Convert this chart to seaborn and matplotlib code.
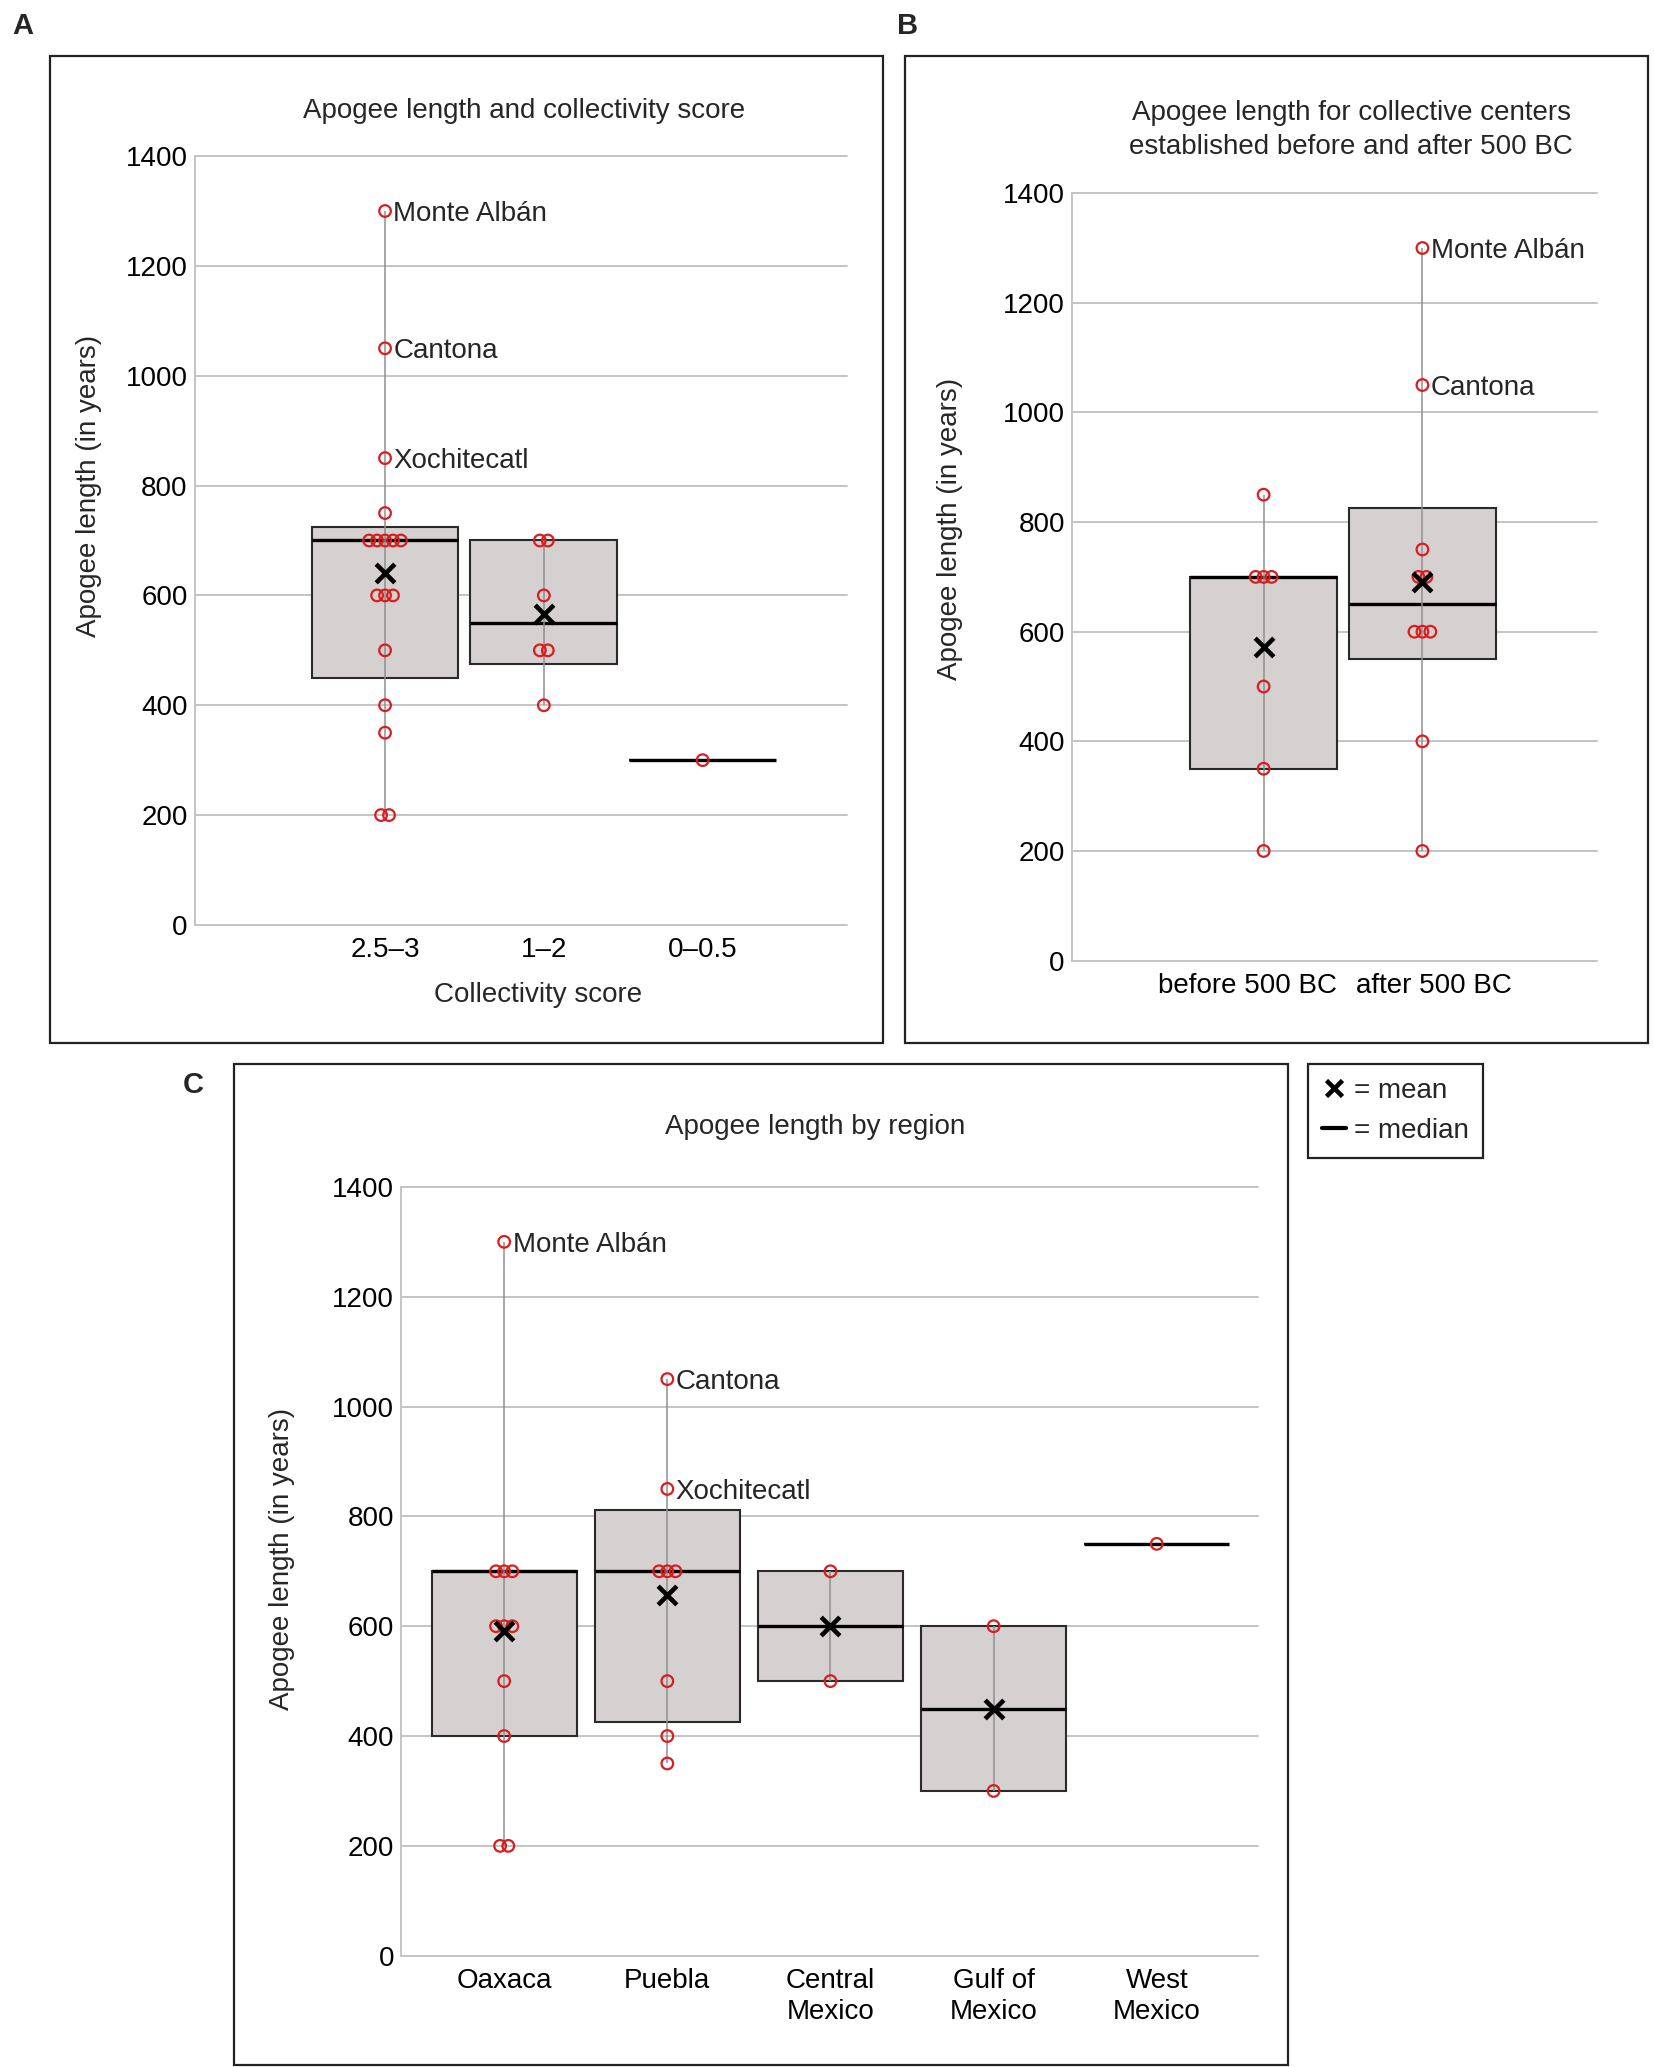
import numpy as np
import pandas as pd
import matplotlib
matplotlib.use("Agg")
import matplotlib.pyplot as plt
import seaborn as sns
from matplotlib.patches import Rectangle
from matplotlib.lines import Line2D

# ---------------- data ----------------
# Panel A: collectivity score
a_groups = ["2.5–3", "1–2", "0–0.5"]
a_high = [1300, 1050, 850, 750, 700, 700, 700, 700, 700, 600, 600, 600, 500, 400, 350, 200, 200]
a_mid = [700, 700, 600, 500, 500, 400]
a_low = [300]
a_q1 = [450, 475, None]
a_med = [700, 550, 300]
a_q3 = [725, 700, None]
a_names = ["Monte Albán", "Cantona", "Xochitecatl"]
a_name_group = [0, 0, 0]
a_name_value = [1300, 1050, 850]

# Panel B: before / after 500 BC
b_groups = ["before 500 BC", "after 500 BC"]
b_before = [850, 700, 700, 700, 500, 350, 200]
b_after = [1300, 1050, 750, 700, 700, 600, 600, 600, 400, 200]
b_q1 = [350, 550]
b_med = [700, 650]
b_q3 = [700, 825]
b_names = ["Monte Albán", "Cantona"]
b_name_group = [1, 1]
b_name_value = [1300, 1050]

# Panel C: region
c_groups = ["Oaxaca", "Puebla", "Central\nMexico", "Gulf of\nMexico", "West\nMexico"]
c_oaxaca = [1300, 700, 700, 700, 600, 600, 600, 500, 400, 200, 200]
c_puebla = [1050, 850, 700, 700, 700, 500, 400, 350]
c_central = [700, 500]
c_gulf = [600, 300]
c_west = [750]
c_q1 = [400, 425, 500, 300, None]
c_med = [700, 700, 600, 450, 750]
c_q3 = [700, 812, 700, 600, None]
c_names = ["Monte Albán", "Cantona", "Xochitecatl"]
c_name_group = [0, 1, 1]
c_name_value = [1300, 1050, 850]

# ---------------- style ----------------
W, H = 1654, 2067
sns.set_theme(style="white")
plt.rcParams['font.family'] = ['Liberation Sans', 'DejaVu Sans']

RED = '#d81e1e'
BOXFILL = '#d5d1d1'
GRID = '#c4c4c4'
FS = 20

fig = plt.figure(figsize=(W / 100, H / 100), dpi=100)


def axrect(l, t, r, b):
    return [l / W, 1 - b / H, (r - l) / W, (b - t) / H]


def panel(ax, groups, data, q1, med, q3, xlim, box_w, dx,
          names, name_group, name_value, tick_shift=None):
    # boxes (median-only when no quartiles)
    stats = []
    for gi, vals in enumerate(data):
        lo = q1[gi] if q1[gi] is not None else med[gi]
        hi = q3[gi] if q3[gi] is not None else med[gi]
        stats.append(dict(med=med[gi], q1=lo, q3=hi, whislo=lo, whishi=hi, fliers=[]))
    ax.bxp(stats, positions=list(range(len(data))), widths=box_w,
           patch_artist=True, showcaps=False, showfliers=False,
           boxprops=dict(facecolor=BOXFILL, edgecolor='#2a2a2a', linewidth=1.5),
           medianprops=dict(color='black', linewidth=2.4),
           whiskerprops=dict(linewidth=0), zorder=2)

    # range line through points
    for gi, vals in enumerate(data):
        if len(vals) > 1:
            ax.vlines(gi, min(vals), max(vals), color='#8f8f8f', lw=1.1, zorder=3)

    # points with small offsets for duplicates
    rows = []
    for gi, vals in enumerate(data):
        for v in sorted(set(vals), reverse=True):
            k = vals.count(v)
            for i in range(k):
                rows.append(dict(x=gi + (i - (k - 1) / 2) * dx, y=v))
    pts = pd.DataFrame(rows)
    sns.scatterplot(data=pts, x='x', y='y', ax=ax, marker='o', s=70,
                    facecolors='none', edgecolor=RED, linewidth=1.6, zorder=4)

    # means
    mrows = [dict(x=gi, y=float(np.mean(v))) for gi, v in enumerate(data) if len(v) > 1]
    means = pd.DataFrame(mrows)
    sns.scatterplot(data=means, x='x', y='y', ax=ax, marker='x', s=180,
                    color='black', linewidth=3.3, zorder=5)

    # name labels
    for nm, g, v in zip(names, name_group, name_value):
        ax.annotate(nm, (g, v), xytext=(6, 0), textcoords='offset points',
                    va='center_baseline', ha='left', fontsize=FS, zorder=6)

    ax.set_xlim(*xlim)
    ax.set_ylim(0, 1400)
    ax.set_yticks(range(0, 1401, 200))
    ticks = list(range(len(groups)))
    if tick_shift is not None:
        ticks = [t + s for t, s in zip(ticks, tick_shift)]
    ax.set_xticks(ticks)
    ax.set_xticklabels(groups)
    ax.set_xlabel('')
    ax.set_ylabel('')
    ax.yaxis.grid(True, color=GRID, lw=1.4)
    ax.xaxis.grid(False)
    for gl in ax.yaxis.get_gridlines():
        gl.set_clip_on(False)
    ax.set_axisbelow(True)
    for s in ['top', 'right', 'bottom']:
        ax.spines[s].set_visible(False)
    ax.spines['left'].set_color(GRID)
    ax.spines['left'].set_linewidth(1.4)
    ax.tick_params(axis='both', length=0, labelsize=FS, colors='black')
    ax.tick_params(axis='y', pad=5)
    ax.tick_params(axis='x', pad=9)
    ax.set_facecolor('none')


# ---------------- Panel A ----------------
axA = fig.add_axes(axrect(194.5, 156.1, 846.8, 924.9))
panel(axA, a_groups, [a_high, a_mid, a_low], a_q1, a_med, a_q3,
      (-1.2, 2.908), 0.925, 0.05, a_names, a_name_group, a_name_value)

# ---------------- Panel B ----------------
axB = fig.add_axes(axrect(1071.8, 193.2, 1597.1, 960.6))
panel(axB, b_groups, [b_before, b_after], b_q1, b_med, b_q3,
      (-1.208, 2.1), 0.925, 0.05, b_names, b_name_group, b_name_value,
      tick_shift=[-0.10, 0.07])

# ---------------- Panel C ----------------
axC = fig.add_axes(axrect(400.9, 1186.9, 1258.4, 1955.7))
panel(axC, c_groups, [c_oaxaca, c_puebla, c_central, c_gulf, c_west], c_q1, c_med, c_q3,
      (-0.633, 4.623), 0.89, 0.05, c_names, c_name_group, c_name_value)
for lbl in axC.get_xticklabels():
    lbl.set_linespacing(1.25)

# ---------------- frames ----------------
def frame(l, t, r, b):
    fig.patches.append(Rectangle((l / W, 1 - b / H), (r - l) / W, (b - t) / H,
                                 transform=fig.transFigure, fill=False,
                                 edgecolor='#222222', lw=1.6, zorder=0))

frame(50.3, 55.6, 882.6, 1042.7)
frame(905.0, 55.6, 1648.0, 1042.7)
frame(234.2, 1064.0, 1287.5, 2064.5)


def ftext(x, y, s, **kw):
    fig.text(x / W, 1 - y / H, s, **kw)


# titles
ftext(524, 111, "Apogee length and collectivity score", ha='center', va='center', fontsize=FS)
ftext(1351, 130, "Apogee length for collective centers\nestablished before and after 500 BC",
      ha='center', va='center', fontsize=FS, linespacing=1.4)
ftext(815, 1127, "Apogee length by region", ha='center', va='center', fontsize=FS)

# y labels
ftext(88.7, 485.6, "Apogee length (in years)", rotation=90, ha='center', va='center', fontsize=FS)
ftext(950, 529, "Apogee length (in years)", rotation=90, ha='center', va='center', fontsize=FS)
ftext(281.8, 1558.7, "Apogee length (in years)", rotation=90, ha='center', va='center', fontsize=FS)

# x label A
ftext(538.5, 995, "Collectivity score", ha='center', va='center', fontsize=FS)

# panel letters
ftext(22.5, 26.5, "A", ha='center', va='center', fontsize=21, fontweight='bold')
ftext(907.7, 26.5, "B", ha='center', va='center', fontsize=21, fontweight='bold')
ftext(193, 1085, "C", ha='center', va='center', fontsize=21, fontweight='bold')

# legend
handles = [Line2D([], [], marker='x', ls='none', color='black', markersize=12, mew=3.3),
           Line2D([], [], color='black', lw=3.0)]
leg = fig.legend(handles, ["= mean", "= median"], loc='upper left',
                 bbox_to_anchor=(1308 / W, 1 - 1064.0 / H), borderaxespad=0,
                 fontsize=FS, frameon=True, fancybox=False, edgecolor='#222222',
                 handlelength=0.85, handletextpad=0.3, borderpad=0.5,
                 labelspacing=0.5, framealpha=1)
leg.get_frame().set_linewidth(1.6)

fig.savefig("out.png", dpi=100)
